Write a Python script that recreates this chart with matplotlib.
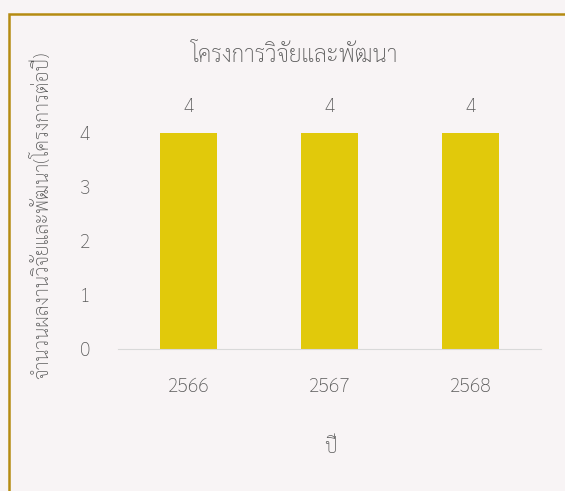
import matplotlib.pyplot as plt
from matplotlib.patches import Rectangle

plt.rcParams['font.family'] = ['Sarabun', 'DejaVu Sans']

years = ['2566', '2567', '2568']
projects = [4, 4, 4]
title = 'โครงการวิจัยและพัฒนา'
xlabel = 'ปี'
ylabel = 'จำนวนผลงานวิจัยและพัฒนา(โครงการต่อปี)'

gray = '#595959'
fig = plt.figure(figsize=(5.65, 4.91), dpi=100)
fig.patch.set_facecolor('#f8f4f5')

# golden frame, running off the right and bottom edges
fig.patches.append(Rectangle((9 / 565, -0.05), 1.0, 1 - 14 / 491 + 0.05,
                             transform=fig.transFigure, fill=False,
                             edgecolor='#b58b12', linewidth=1.8))

ax = fig.add_axes([118 / 565, 142 / 491, 423 / 565, 216 / 491])
ax.set_facecolor('none')
x = range(len(years))
bars = ax.bar(x, projects, width=0.4, color='#e1c90b')
ax.bar_label(bars, padding=12, fontsize=14, color=gray, fontweight='light')

ax.set_xlim(-0.5, 2.5)
ax.set_ylim(0, 4)
ax.set_xticks(list(x))
ax.set_xticklabels(years, fontweight='light')
ax.set_yticks(range(5))
ax.set_yticklabels(range(5), fontweight='light')
ax.tick_params(length=0, labelsize=14, colors=gray)
ax.tick_params(axis='x', pad=21)
ax.tick_params(axis='y', pad=20)
for s in ['top', 'right', 'left']:
    ax.spines[s].set_visible(False)
ax.spines['bottom'].set_color('#d9d9d9')

fig.text(294 / 565, 1 - 55 / 491, title, ha='center', va='center',
         fontsize=16.5, color=gray, fontweight='light')
fig.text(330 / 565, 1 - 447 / 491, xlabel, ha='center', va='center',
         fontsize=14, color=gray, fontweight='light')
fig.text(42 / 565, 1 - 215 / 491, ylabel, ha='center', va='center',
         rotation=90, fontsize=14, color=gray, fontweight='light')

plt.savefig('out.png', dpi=100, facecolor=fig.get_facecolor())
